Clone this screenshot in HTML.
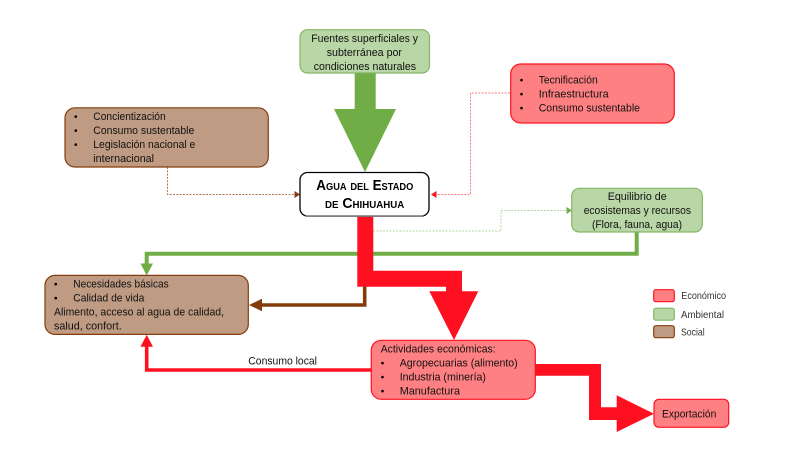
<!DOCTYPE html>
<html><head><meta charset="utf-8"><style>
html,body{margin:0;padding:0;background:#fff;width:800px;height:450px;overflow:hidden}
svg{display:block;filter:blur(0.25px)}
text{font-family:"Liberation Sans",sans-serif;font-size:10.9px;fill:#111}
.l{font-size:9.8px;fill:#333}
.t{font-size:14.5px;font-weight:bold;font-variant:small-caps;fill:#000}
.b{font-size:10px;fill:#000}
</style></head><body>
<svg width="800" height="450" viewBox="0 0 800 450" xmlns="http://www.w3.org/2000/svg">
<!-- dotted connectors -->
<g fill="none" stroke-width="1" stroke-dasharray="2 1.3">
<path d="M167.5 167V194.5H296" stroke="#b5754f"/>
<path d="M510 93H470.5V194.5H436" stroke="#ff7a80"/>
<path d="M373 231H501V210.5H567" stroke="#b5d6a5"/>
</g>
<path d="M300 194.5L294.5 191V198Z" fill="#843c0c"/>
<path d="M431 194.5L436.5 191V198Z" fill="#ff1020"/>
<path d="M572 210.5L566.5 207V214Z" fill="#70ad47"/>
<!-- green big arrow -->
<path d="M354.7 73H375.7V109H396L365 172L334 109H354.7Z" fill="#70ad47"/>
<!-- thin green connector -->
<path d="M636.7 232V253.7H146.7V264" fill="none" stroke="#70ad47" stroke-width="4"/>
<path d="M140.5 263.5H153L146.7 275.5Z" fill="#70ad47"/>
<!-- brown connector -->
<path d="M364.7 280V305H260" fill="none" stroke="#843c0c" stroke-width="3.6"/>
<path d="M249 305L262 298.8V311.2Z" fill="#843c0c"/>
<!-- red consumo local -->
<path d="M372 370H146.7V346" fill="none" stroke="#ff1020" stroke-width="3.6"/>
<path d="M140.5 346.8H153L146.7 334.8Z" fill="#ff1020"/>
<!-- red big arrows -->
<path d="M357.3 216H373.3V270.7H462V291.3H478.3L454 340L429.3 291.3H446V286.7H357.3Z" fill="#ff1020"/>
<path d="M535 364H601V407.3H616.7V395.3L654 413.7L616.7 432V420H589V375.7H535Z" fill="#ff1020"/>
<!-- boxes -->
<g stroke-width="1.2">
<rect x="300" y="29.7" width="129.5" height="43.3" rx="7.5" fill="#b9d6a6" stroke="#84b765"/>
<rect x="510.7" y="64" width="163.6" height="59" rx="10" fill="#ff8082" stroke="#ff1020"/>
<rect x="65" y="107.8" width="203.3" height="59.2" rx="10" fill="#bf9b83" stroke="#843c0c"/>
<rect x="571.7" y="188.3" width="130.6" height="43.7" rx="7.5" fill="#b9d6a6" stroke="#84b765"/>
<rect x="45" y="275.4" width="203.3" height="59" rx="10" fill="#bf9b83" stroke="#843c0c"/>
<rect x="371.3" y="340.3" width="164" height="59" rx="10" fill="#ff8082" stroke="#ff1020"/>
<rect x="654" y="399.3" width="74.7" height="28" rx="5" fill="#ff8082" stroke="#ff1020"/>
<rect x="653.7" y="289.7" width="20.6" height="12" rx="2.2" fill="#ff8082" stroke="#ff1020"/>
<rect x="653.7" y="308.2" width="20.6" height="12" rx="2.2" fill="#b9d6a6" stroke="#84b765"/>
<rect x="653.7" y="325.7" width="20.6" height="12" rx="2.2" fill="#bf9b83" stroke="#843c0c"/>
</g>
<rect x="300" y="172.5" width="129" height="43.5" rx="7.5" fill="#fff" stroke="#000" stroke-width="1.3"/>
<path d="M305 216.2H424" stroke="#777" stroke-width="1.4"/>
<!-- text -->
<g>
<text x="311.3" y="42" textLength="106.7" lengthAdjust="spacingAndGlyphs">Fuentes superficiales y</text>
<text x="326.7" y="56" textLength="75.3" lengthAdjust="spacingAndGlyphs">subterránea por</text>
<text x="313.7" y="70" textLength="102.3" lengthAdjust="spacingAndGlyphs">condiciones naturales</text>
<text class="t" x="316.3" y="190" textLength="97" lengthAdjust="spacingAndGlyphs">Agua del Estado</text>
<text class="t" x="325" y="208" textLength="79.3" lengthAdjust="spacingAndGlyphs">de Chihuahua</text>
<text class="b" x="74" y="120">•</text><text class="b" x="74" y="134">•</text><text class="b" x="74" y="148">•</text>
<text x="93.3" y="120" textLength="72.4" lengthAdjust="spacingAndGlyphs">Concientización</text>
<text x="93.3" y="134" textLength="101" lengthAdjust="spacingAndGlyphs">Consumo sustentable</text>
<text x="93.3" y="148" textLength="102" lengthAdjust="spacingAndGlyphs">Legislación nacional e</text>
<text x="93.3" y="162" textLength="60.7" lengthAdjust="spacingAndGlyphs">internacional</text>
<text class="b" x="519.7" y="83.3">•</text><text class="b" x="519.7" y="97.3">•</text><text class="b" x="519.7" y="111.3">•</text>
<text x="538.7" y="83.3" textLength="59" lengthAdjust="spacingAndGlyphs">Tecnificación</text>
<text x="538.7" y="97.3" textLength="70" lengthAdjust="spacingAndGlyphs">Infraestructura</text>
<text x="538.7" y="111.3" textLength="101.3" lengthAdjust="spacingAndGlyphs">Consumo sustentable</text>
<text x="607.7" y="200" textLength="59" lengthAdjust="spacingAndGlyphs">Equilibrio de</text>
<text x="583.7" y="214" textLength="107.3" lengthAdjust="spacingAndGlyphs">ecosistemas y recursos</text>
<text x="592" y="228" textLength="90" lengthAdjust="spacingAndGlyphs">(Flora, fauna, agua)</text>
<text class="b" x="54" y="287.3">•</text><text class="b" x="54" y="301.3">•</text>
<text x="73.3" y="287.3" textLength="95.4" lengthAdjust="spacingAndGlyphs">Necesidades básicas</text>
<text x="73.3" y="301.3" textLength="71" lengthAdjust="spacingAndGlyphs">Calidad de vida</text>
<text x="54" y="315.3" textLength="170" lengthAdjust="spacingAndGlyphs">Alimento, acceso al agua de calidad,</text>
<text x="54" y="329.3" textLength="67.7" lengthAdjust="spacingAndGlyphs">salud, confort.</text>
<text x="380.7" y="352.7" textLength="115" lengthAdjust="spacingAndGlyphs">Actividades económicas:</text>
<text class="b" x="380.7" y="366.7">•</text><text class="b" x="380.7" y="380.7">•</text><text class="b" x="380.7" y="394.7">•</text>
<text x="399.7" y="366.7" textLength="118" lengthAdjust="spacingAndGlyphs">Agropecuarias (alimento)</text>
<text x="399.7" y="380.7" textLength="86.3" lengthAdjust="spacingAndGlyphs">Industria (minería)</text>
<text x="399.7" y="394.7" textLength="60.3" lengthAdjust="spacingAndGlyphs">Manufactura</text>
<text x="662" y="417.3" textLength="54.3" lengthAdjust="spacingAndGlyphs">Exportación</text>
<text x="248.3" y="364.3" textLength="68.7" lengthAdjust="spacingAndGlyphs">Consumo local</text>
<text class="l" x="681.3" y="299" textLength="44.7" lengthAdjust="spacingAndGlyphs">Económico</text>
<text class="l" x="681" y="318" textLength="43" lengthAdjust="spacingAndGlyphs">Ambiental</text>
<text class="l" x="681" y="335.7" textLength="23.7" lengthAdjust="spacingAndGlyphs">Social</text>
</g>
</svg>
</body></html>
